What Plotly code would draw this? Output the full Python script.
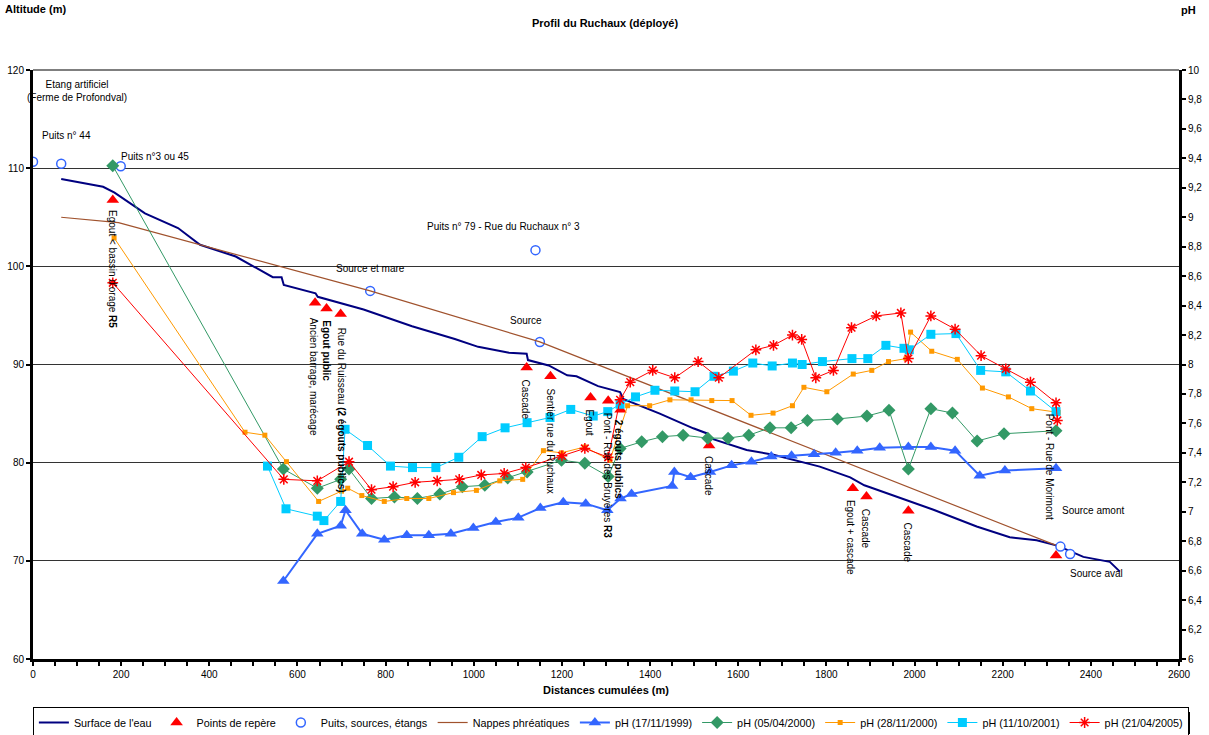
import plotly.graph_objects as go

# ---- Profile data (distance in m, altitude in m) ----
surface_x = [64, 159, 185, 231, 254, 329, 379, 460, 524, 544, 564, 569, 641, 646, 750, 860, 957, 1010,
             1080, 1120, 1123, 1170, 1212, 1233, 1282, 1317, 1332, 1339, 1422, 1498, 1528, 1543, 1619,
             1680, 1785, 1854, 1886, 1899, 1974, 1986, 2043, 2141, 2216, 2277, 2319, 2337, 2383, 2443,
             2459, 2466]
surface_alt = [108.9, 108.1, 107.5, 106.1, 105.4, 103.9, 102.2, 101.0, 99.35, 98.9, 98.9, 98.1, 97.25,
               96.9, 95.6, 93.9, 92.6, 91.8, 91.2, 91.1, 90.45, 89.9, 88.9, 88.8, 87.8, 87.4, 87.2, 86.5,
               85.0, 83.5, 83.0, 82.4, 81.3, 80.8, 79.6, 78.5, 77.7, 77.5, 76.3, 76.1, 75.2, 73.5, 72.4,
               72.1, 71.6, 71.3, 70.4, 69.9, 69.2, 68.9]

nappe_x = [64, 194, 765, 1150, 2320]
nappe_alt = [105.0, 104.45, 97.5, 92.3, 71.6]

wells_x = [0, 64, 199, 765, 1140, 1150, 2331, 2353]
wells_alt = [110.65, 110.45, 110.2, 97.5, 101.65, 92.3, 71.45, 70.7]

landmarks_x = [181, 640, 666, 698, 1120, 1174, 1265, 1305, 1333, 1534, 1860, 1891, 1986, 2321]
landmarks_alt = [106.75, 96.3, 95.7, 95.15, 89.7, 88.8, 86.65, 86.3, 85.4, 81.75, 77.4, 76.55, 75.1, 70.55]
landmark_names = [
    "Egout &lt; bassin d'orage <b>R5</b>",
    "Ancien barrage, marécage",
    "<b>Egout public</b>",
    "Rue du Ruisseau <b>(2 égouts publics)</b>",
    "Cascade",
    "Sentier rue du Ruchaux",
    "Egout",
    "Pont - Rue des Bruyères <b>R3</b>",
    "<b>2 égouts publics</b>",
    "Cascade",
    "Egout + cascade",
    "Cascade",
    "Cascade",
    "Pont - Rue de Morimont",
]

well_names = [
    "Etang artificiel<br>(Ferme de Profondval)",
    "Puits n° 44",
    "Puits n°3 ou 45",
    "Source et mare",
    "Puits n° 79 - Rue du Ruchaux n° 3",
    "Source",
    "Source amont",
    "Source aval",
]

# ---- pH campaigns ----
ph1999_x = [568, 645, 698, 709, 747, 797, 848, 898, 948, 999, 1050, 1101, 1151, 1203, 1254, 1303, 1333,
            1358, 1450, 1455, 1492, 1536, 1585, 1630, 1675, 1721, 1772, 1821, 1870, 1921, 1986, 2037,
            2092, 2148, 2205, 2321]
ph1999 = [6.53, 6.85, 6.905, 7.01, 6.85, 6.81, 6.84, 6.84, 6.85, 6.89, 6.93, 6.96, 7.025, 7.065, 7.055,
          7.01, 7.09, 7.12, 7.175, 7.27, 7.235, 7.27, 7.315, 7.34, 7.375, 7.38, 7.39, 7.40, 7.415, 7.435,
          7.44, 7.44, 7.415, 7.245, 7.28, 7.295]

ph2000a_x = [181, 568, 645, 698, 717, 768, 820, 872, 923, 974, 1025, 1077, 1121, 1199, 1252, 1305, 1332,
             1381, 1428, 1475, 1531, 1577, 1624, 1672, 1720, 1757, 1825, 1892, 1942, 1986, 2037, 2086,
             2142, 2203, 2321]
ph2000a = [9.35, 7.29, 7.16, 7.22, 7.29, 7.09, 7.10, 7.09, 7.12, 7.17, 7.18, 7.23, 7.27, 7.35, 7.33, 7.24,
           7.43, 7.475, 7.51, 7.52, 7.50, 7.50, 7.52, 7.57, 7.57, 7.62, 7.63, 7.65, 7.69, 7.29, 7.70,
           7.67, 7.48, 7.53, 7.55]

ph2000b_x = [184, 481, 526, 575, 648, 700, 714, 746, 797, 848, 898, 954, 1006, 1059, 1111, 1158, 1199,
             1252, 1309, 1349, 1399, 1445, 1493, 1540, 1586, 1629, 1679, 1723, 1749, 1801, 1861, 1903,
             1941, 1981, 1991, 2039, 2097, 2154, 2213, 2266, 2326]
ph2000b = [8.86, 7.54, 7.52, 7.34, 7.07, 7.14, 7.16, 7.11, 7.07, 7.09, 7.09, 7.13, 7.145, 7.21, 7.22,
           7.415, 7.40, 7.44, 7.35, 7.72, 7.72, 7.76, 7.76, 7.755, 7.755, 7.655, 7.67, 7.72, 7.845, 7.815,
           7.935, 7.96, 8.02, 8.04, 8.22, 8.09, 8.035, 7.84, 7.78, 7.70, 7.675]

ph2001_x = [532, 574, 645, 660, 698, 708, 759, 811, 861, 914, 966, 1019, 1071, 1121, 1173, 1220, 1271,
            1304, 1332, 1367, 1411, 1456, 1502, 1545, 1589, 1633, 1677, 1723, 1745, 1791, 1858, 1894,
            1935, 1976, 1988, 2037, 2094, 2150, 2207, 2263, 2321]
ph2001 = [7.31, 7.02, 6.97, 6.94, 7.07, 7.56, 7.45, 7.31, 7.30, 7.30, 7.37, 7.51, 7.57, 7.605, 7.64, 7.695,
          7.65, 7.68, 7.73, 7.78, 7.825, 7.82, 7.815, 7.92, 7.955, 8.01, 7.99, 8.01, 8.00, 8.02, 8.04,
          8.04, 8.13, 8.11, 8.10, 8.205, 8.21, 7.96, 7.95, 7.82, 7.68]

ph2005_x = [181, 569, 645, 717, 768, 817, 867, 917, 967, 1017, 1069, 1118, 1200, 1252, 1305, 1332, 1355,
            1406, 1456, 1509, 1556, 1640, 1680, 1723, 1744, 1776, 1816, 1857, 1913, 1969, 1986, 2037,
            2092, 2151, 2207, 2263, 2321, 2324]
ph2005 = [8.555, 7.22, 7.21, 7.34, 7.15, 7.17, 7.20, 7.21, 7.22, 7.25, 7.26, 7.30, 7.38, 7.43, 7.37, 7.76,
          7.88, 7.96, 7.91, 8.02, 7.91, 8.10, 8.13, 8.20, 8.17, 7.91, 7.96, 8.25, 8.33, 8.35, 8.04, 8.33,
          8.24, 8.06, 7.97, 7.88, 7.74, 7.62]

# ---- label placement (distance, altitude of the label anchor) ----
landmark_label_pos = [(180, 105.9), (637, 95.0), (666, 94.7), (699, 94.0), (1118, 88.7), (1173, 87.8),
                      (1262, 85.6), (1302, 85.3), (1329, 84.55), (1531, 80.9), (1855, 76.4),
                      (1888, 75.5), (1983, 74.1), (2305, 85.2)]
well_label_pos = [(100, 117.9), (77, 113.3), (276, 111.14), (765, 99.73), (1067, 104.04), (1118, 94.53),
                  (2405, 75.1), (2413, 68.66)]

FONT = "Arial, 'Liberation Sans', sans-serif"
W, H = 1209, 735
M_L, M_R, M_T, M_B = 33, 30, 70, 76
PLOT_W, PLOT_H = W - M_L - M_R, H - M_T - M_B


def px_to_paper(px, py):
    return (px - M_L) / PLOT_W, (H - M_B - py) / PLOT_H


fig = go.Figure()

fig.add_trace(go.Scatter(x=surface_x, y=surface_alt, mode="lines", name="Surface de l'eau",
                         line=dict(color="#000080", width=2)))
fig.add_trace(go.Scatter(x=landmarks_x, y=landmarks_alt, mode="markers", name="Points de repère",
                         marker=dict(symbol="triangle-up", size=11, color="#FF0000")))
fig.add_trace(go.Scatter(x=wells_x, y=wells_alt, mode="markers", name="Puits, sources, étangs",
                         marker=dict(symbol="circle", size=9, color="white",
                                     line=dict(color="#3366FF", width=1.5))))
fig.add_trace(go.Scatter(x=nappe_x, y=nappe_alt, mode="lines", name="Nappes phréatiques",
                         line=dict(color="#A0522D", width=1.2)))

fig.add_trace(go.Scatter(x=ph1999_x, y=ph1999, yaxis="y2", mode="lines+markers", name="pH (17/11/1999)",
                         line=dict(color="#3366FF", width=2),
                         marker=dict(symbol="triangle-up", size=11, color="#3366FF")))
fig.add_trace(go.Scatter(x=ph2000a_x, y=ph2000a, yaxis="y2", mode="lines+markers", name="pH (05/04/2000)",
                         line=dict(color="#339966", width=1),
                         marker=dict(symbol="diamond", size=10, color="#339966")))
fig.add_trace(go.Scatter(x=ph2000b_x, y=ph2000b, yaxis="y2", mode="lines+markers", name="pH (28/11/2000)",
                         line=dict(color="#FF9900", width=1),
                         marker=dict(symbol="square", size=5, color="#FF9900")))
fig.add_trace(go.Scatter(x=ph2001_x, y=ph2001, yaxis="y2", mode="lines+markers", name="pH (11/10/2001)",
                         line=dict(color="#00CCFF", width=1),
                         marker=dict(symbol="square", size=9, color="#00CCFF")))
fig.add_trace(go.Scatter(x=ph2005_x, y=ph2005, yaxis="y2", mode="lines+markers", name="pH (21/04/2005)",
                         line=dict(color="#FF0000", width=1),
                         marker=dict(symbol="asterisk-open", size=9, color="#FF0000",
                                     line=dict(color="#FF0000", width=1.5))))

annotations = []
for name, (lx, ly) in zip(landmark_names, landmark_label_pos):
    annotations.append(dict(x=lx, y=ly, xref="x", yref="y", text=name, showarrow=False, textangle=90,
                            xanchor="center", yanchor="top", font=dict(size=10, color="black")))
for name, (lx, ly) in zip(well_names, well_label_pos):
    annotations.append(dict(x=lx, y=ly, xref="x", yref="y", text=name, showarrow=False,
                            xanchor="center", yanchor="middle", align="center",
                            font=dict(size=10, color="black")))

tx, ty = px_to_paper(3, 9)
annotations.append(dict(x=tx, y=ty, xref="paper", yref="paper", text="<b>Altitude (m)</b>",
                        showarrow=False, xanchor="left", yanchor="middle", font=dict(size=11)))
tx, ty = px_to_paper(1188, 10)
annotations.append(dict(x=tx, y=ty, xref="paper", yref="paper", text="<b>pH</b>",
                        showarrow=False, xanchor="center", yanchor="middle", font=dict(size=11)))
tx, ty = px_to_paper(605, 23)
annotations.append(dict(x=tx, y=ty, xref="paper", yref="paper", text="<b>Profil du Ruchaux (déployé)</b>",
                        showarrow=False, xanchor="center", yanchor="middle", font=dict(size=11)))
tx, ty = px_to_paper(606, 690)
annotations.append(dict(x=tx, y=ty, xref="paper", yref="paper", text="<b>Distances cumulées (m)</b>",
                        showarrow=False, xanchor="center", yanchor="middle", font=dict(size=11)))

lx, ly = px_to_paper(34, 707)

fig.update_layout(
    width=W, height=H,
    margin=dict(l=M_L, r=M_R, t=M_T, b=M_B, autoexpand=False),
    paper_bgcolor="white", plot_bgcolor="white",
    font=dict(family=FONT, size=10, color="black"),
    separators=", ",
    showlegend=True,
    legend=dict(orientation="h", x=min(lx, -0.0001), xanchor="left", y=ly, yanchor="top",
                bordercolor="black", borderwidth=1, bgcolor="white",
                font=dict(size=10.8), itemwidth=30, tracegroupgap=0),
    xaxis=dict(range=[0, 2600], dtick=200, tick0=0, showgrid=False, zeroline=False,
               showline=True, linecolor="black", linewidth=3,
               ticks="outside", ticklen=4, tickwidth=2, tickcolor="black",
               minor=dict(dtick=50, ticks="outside", ticklen=4, tickwidth=2, tickcolor="black"),
               tickfont=dict(size=10)),
    yaxis=dict(range=[60, 120], dtick=10, tick0=60, showgrid=True, gridcolor="#333333", gridwidth=1,
               zeroline=False, showline=True, linecolor="black", linewidth=3,
               ticks="outside", ticklen=4, tickwidth=2, tickcolor="black", tickfont=dict(size=10)),
    yaxis2=dict(range=[6, 10], dtick=0.2, tick0=6, overlaying="y", side="right", showgrid=False,
                zeroline=False, showline=True, linecolor="black", linewidth=3,
                ticks="outside", ticklen=4, tickwidth=2, tickcolor="black", tickfont=dict(size=10)),
    annotations=annotations,
)

# top frame line of the plot area
fig.add_shape(type="line", xref="paper", yref="paper", x0=0, x1=1, y0=1, y1=1,
              line=dict(color="#555555", width=1.5))

# drop shadow under the legend box
sx0, sy0 = px_to_paper(37, 712)
sx1, sy1 = px_to_paper(1190, 734)
fig.add_shape(type="rect", xref="paper", yref="paper", x0=sx0, x1=sx1, y0=sy1, y1=sy0,
              fillcolor="black", line=dict(width=0), layer="below")

fig.write_html("out.html")
